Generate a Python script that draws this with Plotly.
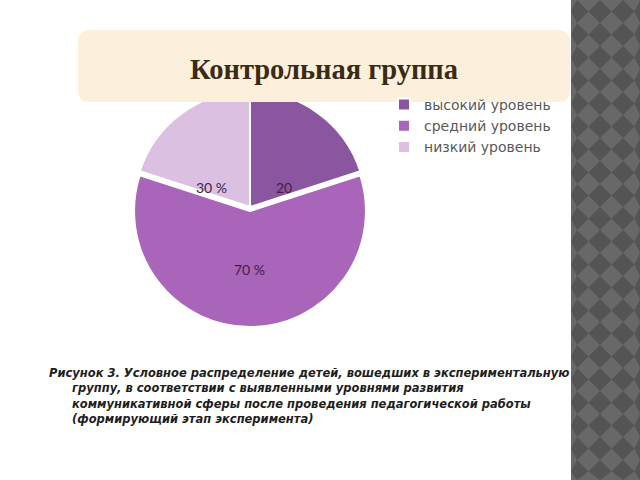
import plotly.graph_objects as go

# ---- data ----
levels = ["высокий уровень", "средний уровень", "низкий уровень"]
shares = [20, 60, 20]
slice_labels = ["20", "70 %", "30 %"]
slice_colors = ["#8b56a0", "#a965b9", "#dcc0e2"]
title_text = "Контрольная группа"
caption_lines = [
    "Рисунок 3. Условное распределение детей, вошедших в экспериментальную",
    "группу, в соответствии с выявленными уровнями развития",
    "коммуникативной сферы после проведения педагогической работы",
    "(формирующий этап эксперимента)",
]

W, H = 640, 480

def px(x):
    return x / W

def py(y):
    return 1 - y / H

fig = go.Figure()
fig.add_trace(go.Pie(
    labels=levels,
    values=shares,
    textinfo="none",
    hoverinfo="label+value",
    sort=False,
    direction="clockwise",
    rotation=0,
    pull=[0, 0.035, 0],
    marker=dict(colors=slice_colors, line=dict(color="white", width=2)),
    domain=dict(x=[px(130), px(370)], y=[py(327), py(87)]),
))

shapes = []
# right decorative strip
x0s, x1s = 571, 640
shapes.append(dict(type="rect", xref="paper", yref="paper",
                   x0=px(x0s), x1=px(x1s), y0=0, y1=1,
                   fillcolor="#686868", line=dict(width=0), layer="below"))
h = 11.5
p = 2 * h
path = ""
cy = -h
while cy < H + p:
    cx = 577
    while cx < W + p:
        pts = [(cx - h, cy), (cx, cy - h), (cx + h, cy), (cx, cy + h)]
        pts = [(min(max(a, x0s), W), min(max(b, 0), H)) for a, b in pts]
        path += "M{:.4f},{:.4f} ".format(px(pts[0][0]), py(pts[0][1]))
        for a, b in pts[1:]:
            path += "L{:.4f},{:.4f} ".format(px(a), py(b))
        path += "Z "
        cx += p
    cy += p
shapes.append(dict(type="path", xref="paper", yref="paper", path=path,
                   fillcolor="#545454", line=dict(width=0), layer="below"))

# rounded title box
bx0, bx1, by0, by1, r = 78, 570, 30, 102, 12
def P(x, y):
    return "{:.5f},{:.5f}".format(px(x), py(y))
box = ("M" + P(bx0 + r, by0) + " L" + P(bx1 - r, by0) + " Q" + P(bx1, by0) + " " + P(bx1, by0 + r) +
       " L" + P(bx1, by1 - r) + " Q" + P(bx1, by1) + " " + P(bx1 - r, by1) +
       " L" + P(bx0 + r, by1) + " Q" + P(bx0, by1) + " " + P(bx0, by1 - r) +
       " L" + P(bx0, by0 + r) + " Q" + P(bx0, by0) + " " + P(bx0 + r, by0) + " Z")
shapes.append(dict(type="path", xref="paper", yref="paper", path=box,
                   fillcolor="#fcf0dc", line=dict(width=0), layer="above"))

annotations = [dict(text="<b>" + title_text + "</b>", xref="paper", yref="paper",
                    x=px(323.5), y=py(69), xanchor="center", yanchor="middle",
                    showarrow=False,
                    font=dict(family="Liberation Serif", size=28.5, color="#3b2a14"))]

# slice labels
label_pos = [(284, 188), (249, 269), (211, 188)]
for lab, (lx, ly) in zip(slice_labels, label_pos):
    annotations.append(dict(text=lab, xref="paper", yref="paper",
                            x=px(lx), y=py(ly), xanchor="center", yanchor="middle",
                            showarrow=False,
                            font=dict(family="Lato", size=14, color="#3d1f48")))

cap_y = 373
for i, line in enumerate(caption_lines):
    annotations.append(dict(text="<i>" + line + "</i>", xref="paper", yref="paper",
                            x=px(47 if i == 0 else 70), y=py(cap_y + i * 15.3),
                            xanchor="left", yanchor="middle", showarrow=False,
                            font=dict(family="DejaVu Sans", size=11.5, color="#1e1e1e",
                                      weight=600)))

fig.update_layout(
    width=W, height=H,
    margin=dict(l=0, r=0, t=0, b=0),
    paper_bgcolor="white",
    plot_bgcolor="white",
    showlegend=True,
    legend=dict(x=px(384), y=py(89), xanchor="left", yanchor="top",
                font=dict(family="DejaVu Sans", size=14, color="#595959"),
                itemwidth=30, tracegroupgap=0, bgcolor="rgba(0,0,0,0)"),
    shapes=shapes,
    annotations=annotations,
)

fig.write_html("out.html")
